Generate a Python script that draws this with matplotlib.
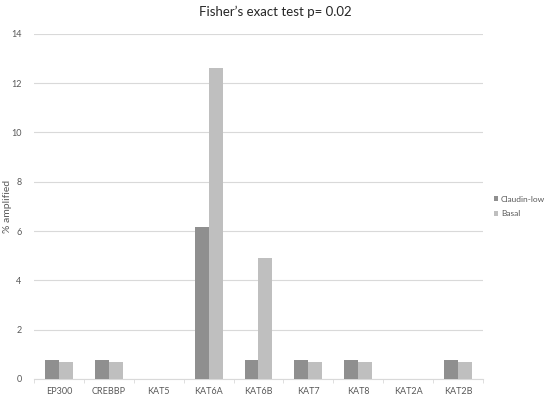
import numpy as np
import matplotlib.pyplot as plt

plt.rcParams['font.family'] = ['Lato', 'DejaVu Sans']

genes = ['EP300', 'CREBBP', 'KAT5', 'KAT6A', 'KAT6B', 'KAT7', 'KAT8', 'KAT2A', 'KAT2B']
claudin_low = [0.77, 0.77, 0, 6.15, 0.77, 0.77, 0.77, 0, 0.77]
basal = [0.70, 0.70, 0, 12.6, 4.9, 0.70, 0.70, 0, 0.70]

fig = plt.figure(figsize=(5.5, 3.98), dpi=100)
ax = fig.add_axes([0.062, 0.048, 0.816, 0.867])

x = np.arange(len(genes))
w = 0.28
ax.bar(x - w / 2, claudin_low, w, color='#8f8f8f', label='Claudin-low', zorder=3)
ax.bar(x + w / 2, basal, w, color='#bfbfbf', label='Basal', zorder=3)

ax.set_xlim(-0.5, len(genes) - 0.5)
ax.set_ylim(0, 14)
ax.set_yticks(range(0, 15, 2))
ax.yaxis.grid(True, color='#d9d9d9', linewidth=0.8, zorder=0)
for s in ['top', 'right', 'left']:
    ax.spines[s].set_visible(False)
ax.spines['bottom'].set_color('#d9d9d9')
ax.set_xticks(x)
ax.set_xticklabels(genes)
ax.set_xticks(np.arange(-0.5, len(genes)), minor=True)
ax.tick_params(axis='x', which='major', length=0, labelsize=6.5, colors='#595959', pad=6)
ax.tick_params(axis='x', which='minor', length=3, color='#d9d9d9')
ax.tick_params(axis='y', length=0, labelsize=6.5, colors='#595959', pad=9)
ax.set_ylabel('% amplified', fontsize=7.5, color='#595959')
ax.yaxis.set_label_coords(-0.05, 0.5)

fig.suptitle('Fisher\u2019s exact test p= 0.02', fontsize=9.5, color='#262626', y=0.985)
ax.legend(loc='center left', bbox_to_anchor=(1.025, 0.5), frameon=False, fontsize=6,
          labelcolor='#595959', handlelength=0.5, handleheight=0.5, handletextpad=0.3,
          borderaxespad=0, borderpad=0, labelspacing=0.9)

fig.savefig('out.png', dpi=100)
